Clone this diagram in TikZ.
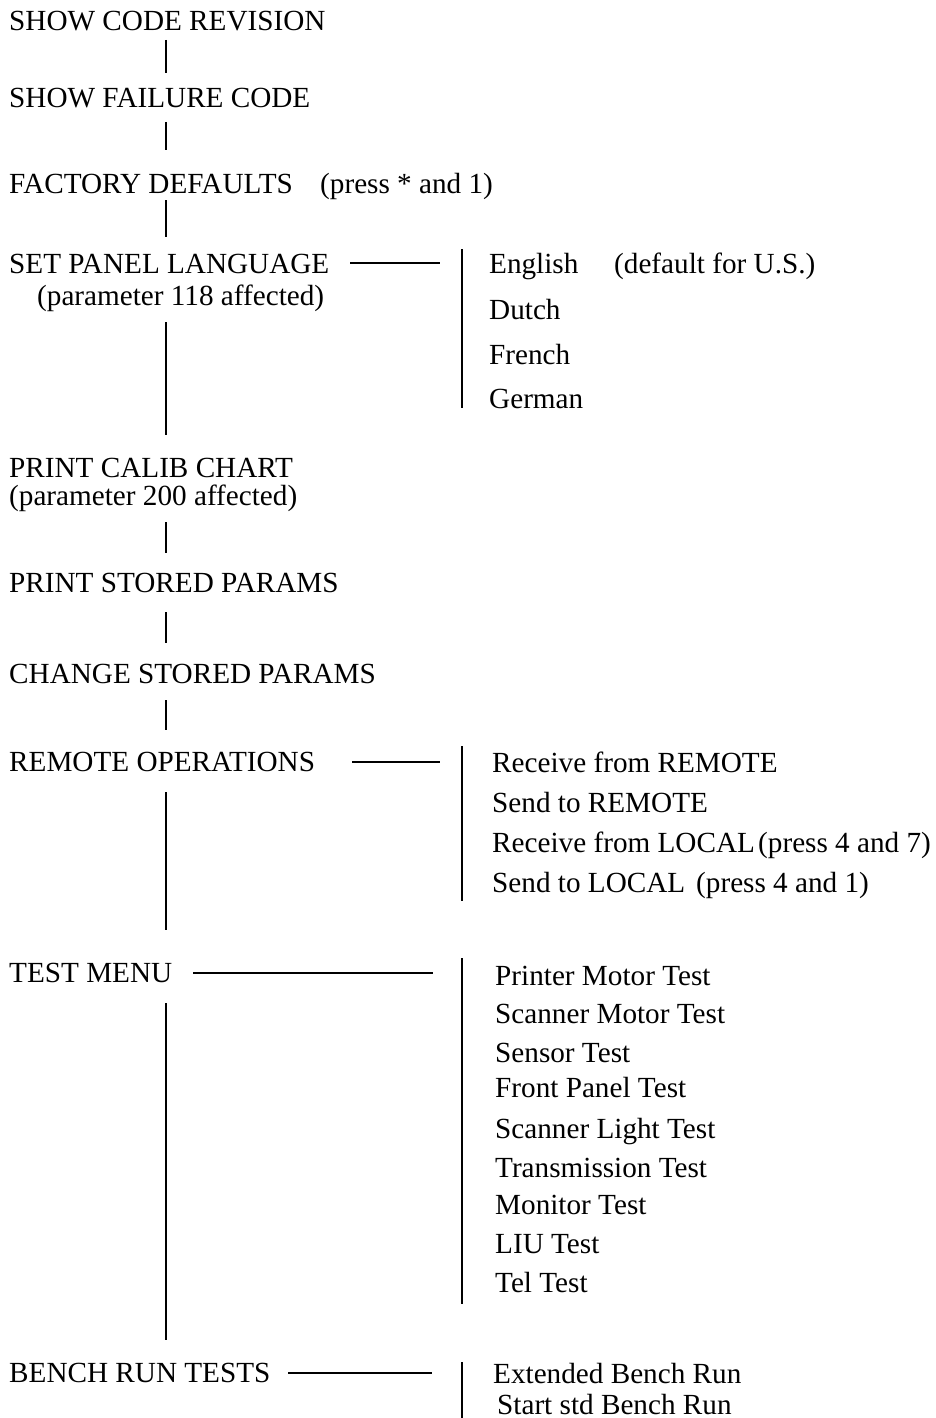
\documentclass[tikz,border=0pt]{standalone}
\usepackage{fontspec}
\setmainfont{Liberation Serif}
\begin{document}
\begin{tikzpicture}[x=1pt,y=-1pt,
  lbl/.style={anchor=base west, inner sep=0pt, font=\fontsize{29.2}{34}\selectfont},
  conn/.style={line width=2.7pt}]
\useasboundingbox (0,0) rectangle (935,1418);
% main column
\node[lbl] (scr)  at (9,31)   {SHOW CODE REVISION};
\node[lbl] (sfc)  at (9,108)  {SHOW FAILURE CODE};
\node[lbl] (fd)   at (9,193)  {FACTORY DEFAULTS};
\node[lbl] (fdn)  at (320,193) {(press * and 1)};
\node[lbl] (spl)  at (9,273)  {SET PANEL LANGUAGE};
\node[lbl] (spln) at (37,305) {(parameter 118 affected)};
\node[lbl] (pcc)  at (9,477)  {PRINT CALIB CHART};
\node[lbl] (pccn) at (9,505)  {(parameter 200 affected)};
\node[lbl] (psp)  at (9,592)  {PRINT STORED PARAMS};
\node[lbl] (csp)  at (9,683)  {CHANGE STORED PARAMS};
\node[lbl] (rop)  at (9,771)  {REMOTE OPERATIONS};
\node[lbl] (tm)   at (9,982)  {TEST MENU};
\node[lbl] (brt)  at (9,1382) {BENCH RUN TESTS};
% language options
\node[lbl] (eng)  at (489,273) {English};
\node[lbl] (engn) at (614,273) {(default for U.S.)};
\node[lbl] (dut)  at (489,319) {Dutch};
\node[lbl] (fre)  at (489,364) {French};
\node[lbl] (ger)  at (489,408) {German};
% remote options
\node[lbl] (rfr)  at (492,772) {Receive from REMOTE};
\node[lbl] (str)  at (492,812) {Send to REMOTE};
\node[lbl] (rfl)  at (492,852) {Receive from LOCAL};
\node[lbl] (rfln) at (758,852) {(press 4 and 7)};
\node[lbl] (stl)  at (492,892) {Send to LOCAL};
\node[lbl] (stln) at (696,892) {(press 4 and 1)};
% tests
\node[lbl] (t1) at (495,985)  {Printer Motor Test};
\node[lbl] (t2) at (495,1023) {Scanner Motor Test};
\node[lbl] (t3) at (495,1062) {Sensor Test};
\node[lbl] (t4) at (495,1097) {Front Panel Test};
\node[lbl] (t5) at (495,1138) {Scanner Light Test};
\node[lbl] (t6) at (495,1177) {Transmission Test};
\node[lbl] (t7) at (495,1214) {Monitor Test};
\node[lbl] (t8) at (495,1253) {LIU Test};
\node[lbl] (t9) at (495,1292) {Tel Test};
% bench
\node[lbl] (b1) at (493,1383) {Extended Bench Run};
\node[lbl] (b2) at (497,1414) {Start std Bench Run};
% connector end points
\coordinate (v1a) at (166,40);   \coordinate (v1b) at (166,73);
\coordinate (v2a) at (166,122);  \coordinate (v2b) at (166,150);
\coordinate (v3a) at (166,200);  \coordinate (v3b) at (166,237);
\coordinate (v4a) at (166,322);  \coordinate (v4b) at (166,435);
\coordinate (v5a) at (166,522);  \coordinate (v5b) at (166,553);
\coordinate (v6a) at (166,612);  \coordinate (v6b) at (166,643);
\coordinate (v7a) at (166,700);  \coordinate (v7b) at (166,730);
\coordinate (v8a) at (166,792);  \coordinate (v8b) at (166,930);
\coordinate (v9a) at (166,1003); \coordinate (v9b) at (166,1340);
\coordinate (h1a) at (350,263);  \coordinate (h1b) at (440,263);
\coordinate (h2a) at (352,762);  \coordinate (h2b) at (440,762);
\coordinate (h3a) at (193,973);  \coordinate (h3b) at (433,973);
\coordinate (h4a) at (288,1373); \coordinate (h4b) at (432,1373);
\coordinate (b1a) at (462,249);  \coordinate (b1b) at (462,408);
\coordinate (b2a) at (462,746);  \coordinate (b2b) at (462,901);
\coordinate (b3a) at (462,958);  \coordinate (b3b) at (462,1304);
\coordinate (b4a) at (462,1362); \coordinate (b4b) at (462,1418);
\foreach \c in {v1,v2,v3,v4,v5,v6,v7,v8,v9,h1,h2,h3,h4,b1,b2,b3,b4}
  \draw[conn] (\c a) -- (\c b);
\end{tikzpicture}
\end{document}
